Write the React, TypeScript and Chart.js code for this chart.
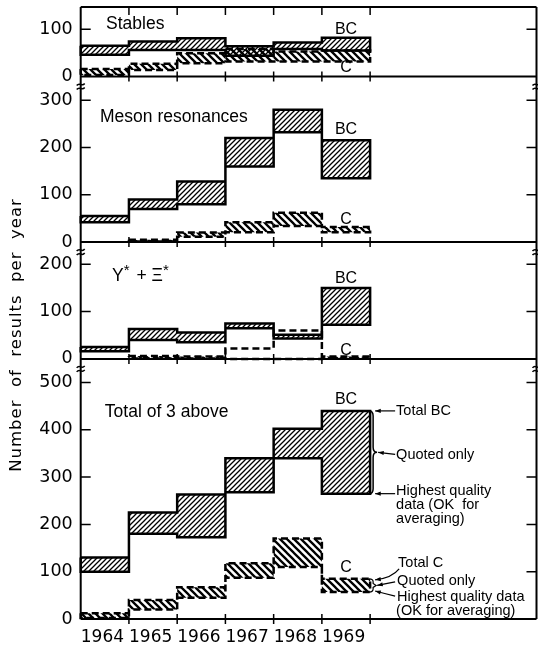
import React, { useEffect, useRef } from 'react';
import { Chart, registerables } from 'chart.js';

Chart.register(...registerables);

// ---- data ----
const years = [1964, 1965, 1966, 1967, 1968, 1969];
const yearLabels = ['1964', '1965', '1966', '1967', '1968', '1969'];

// each entry: [highest quality data (lower edge), total (upper edge)]
const stablesBC = [[46, 65], [56, 74], [56, 81], [44, 64], [58, 72], [55, 82]];
const stablesC = [[3, 16], [14, 27], [28, 49], [32, 58], [32, 53], [32, 55]];
const mesonBC = [[42, 55], [70, 90], [80, 128], [160, 220], [232, 280], [135, 215]];
const mesonC = [null, [1, 5], [11, 20], [21, 42], [34, 62], [21, 32]];
const hyperonBC = [[16, 25], [40, 63], [35, 56], [65, 75], [43, 51], [72, 150]];
const hyperonCQuoted = [null, [1, 6], [1, 5], null, null, [1, 5]];
const hyperonCTotal = [null, [1, 6], [1, 5], [0, 22], [0, 60], [1, 5]];
const totalBC = [[100, 130], [180, 225], [173, 263], [268, 340], [340, 402], [265, 440]];
const totalC = [[2, 12], [20, 40], [45, 67], [87, 118], [110, 170], [57, 85]];

const panelMax = [147, 350, 247, 550];
const panelTicks = [[0, 100], [0, 100, 200, 300], [0, 100, 200], [0, 100, 200, 300, 400, 500]];
const panelTitles = ['Stables', 'Meson resonances', 'Y*+Ξ*', 'Total of 3 above'];
const yTitle = 'Number  of  results  per  year';

type Box = number[] | null;

function outline(series: Box[]) {
  const idx = series.map((v, k) => (v ? k : -1)).filter((k) => k >= 0);
  const s = idx[0];
  const e = idx[idx.length - 1];
  const pts: { x: number; y: number }[] = [];
  for (let k = s; k <= e; k++) pts.push({ x: years[k], y: (series[k] as number[])[1] });
  pts.push({ x: years[e] + 1, y: (series[e] as number[])[1] });
  pts.push({ x: years[e] + 1, y: (series[e] as number[])[0] });
  for (let k = e; k > s; k--) pts.push({ x: years[k], y: (series[k - 1] as number[])[0] });
  pts.push({ x: years[s], y: (series[s] as number[])[0] });
  pts.push({ x: years[s], y: (series[s] as number[])[1] });
  return pts;
}

function barData(series: Box[]) {
  return years.map((yr, k) => ({ x: yr + 0.5, y: series[k] }));
}

function makeHatch(size: number, lw: number, dir: number) {
  const c = document.createElement('canvas');
  c.width = size;
  c.height = size;
  const g = c.getContext('2d')!;
  g.strokeStyle = '#000';
  g.lineWidth = lw;
  g.lineCap = 'square';
  g.beginPath();
  for (let k = -1; k <= 1; k++) {
    if (dir > 0) {
      g.moveTo(k * size, size);
      g.lineTo(k * size + size, 0);
    } else {
      g.moveTo(k * size, 0);
      g.lineTo(k * size + size, size);
    }
  }
  g.stroke();
  return g.createPattern(c, 'repeat')!;
}

const PANEL_FONT = '17.5px "Liberation Sans"';
const LABEL_FONT = '16px "Liberation Sans"';
const ANN_FONT = '14.5px "Liberation Sans"';
const TITLE_FONT = '16.5px "DejaVu Sans"';

function arrow(ctx: CanvasRenderingContext2D, x1: number, y1: number, x2: number, y2: number) {
  ctx.beginPath();
  ctx.moveTo(x1, y1);
  ctx.lineTo(x2, y2);
  ctx.stroke();
  const a = Math.atan2(y2 - y1, x2 - x1);
  ctx.beginPath();
  ctx.moveTo(x2, y2);
  ctx.lineTo(x2 - 6 * Math.cos(a - 0.35), y2 - 6 * Math.sin(a - 0.35));
  ctx.lineTo(x2 - 6 * Math.cos(a + 0.35), y2 - 6 * Math.sin(a + 0.35));
  ctx.closePath();
  ctx.fill();
}

function curvedArrow(ctx: CanvasRenderingContext2D, x1: number, y1: number, cx: number, cy: number, x2: number, y2: number) {
  ctx.beginPath();
  ctx.moveTo(x1, y1);
  ctx.quadraticCurveTo(cx, cy, x2, y2);
  ctx.stroke();
  const a = Math.atan2(y2 - cy, x2 - cx);
  ctx.beginPath();
  ctx.moveTo(x2, y2);
  ctx.lineTo(x2 - 6 * Math.cos(a - 0.35), y2 - 6 * Math.sin(a - 0.35));
  ctx.lineTo(x2 - 6 * Math.cos(a + 0.35), y2 - 6 * Math.sin(a + 0.35));
  ctx.closePath();
  ctx.fill();
}

function text(ctx: CanvasRenderingContext2D, s: string, x: number, y: number, font: string, align: CanvasTextAlign = 'left') {
  ctx.font = font;
  ctx.textAlign = align;
  ctx.textBaseline = 'middle';
  ctx.fillText(s, x, y);
}

const decor = {
  id: 'decor',
  afterDatasetsDraw(chart: any) {
    const ctx: CanvasRenderingContext2D = chart.ctx;
    const { left, right, top } = chart.chartArea;
    const xs = chart.scales.x;
    const panels = [0, 1, 2, 3].map((i) => chart.scales['y' + i]);
    const rx = right - 1;
    ctx.save();
    ctx.strokeStyle = '#000';
    ctx.fillStyle = '#000';
    ctx.lineCap = 'butt';
    ctx.lineWidth = 2;
    // frame
    ctx.beginPath();
    ctx.moveTo(left, top);
    ctx.lineTo(rx, top);
    ctx.moveTo(left, top);
    ctx.lineTo(left, panels[3].bottom);
    ctx.moveTo(rx, top);
    ctx.lineTo(rx, panels[3].bottom);
    panels.forEach((p) => {
      ctx.moveTo(left, p.bottom);
      ctx.lineTo(rx, p.bottom);
    });
    ctx.stroke();
    // inward value ticks
    ctx.lineWidth = 1.5;
    ctx.beginPath();
    panels.forEach((p) => {
      p.ticks.forEach((t: any) => {
        if (t.value <= 0) return;
        const y = p.getPixelForValue(t.value);
        ctx.moveTo(left, y);
        ctx.lineTo(left + 10, y);
        ctx.moveTo(rx - 10, y);
        ctx.lineTo(rx, y);
      });
    });
    // year boundary ticks
    const bounds = years.slice(1).concat([years[years.length - 1] + 1]);
    bounds.forEach((yr) => {
      const x = xs.getPixelForValue(yr);
      ctx.moveTo(x, top);
      ctx.lineTo(x, top + 8);
      panels.forEach((p) => {
        ctx.moveTo(x, p.bottom - 5);
        ctx.lineTo(x, p.bottom + 5);
      });
    });
    ctx.stroke();
    // axis break marks
    ctx.lineWidth = 1.5;
    panels.slice(0, 3).forEach((p) => {
      [left, rx].forEach((x) => {
        const y = p.bottom + 10;
        ctx.beginPath();
        for (const dy of [-2, 2]) {
          ctx.moveTo(x - 4, y + dy + 1);
          ctx.bezierCurveTo(x - 1, y + dy - 3, x + 1, y + dy + 3, x + 4, y + dy - 1);
        }
        ctx.stroke();
      });
    });
    ctx.restore();
  },
  afterDraw(chart: any) {
    const ctx: CanvasRenderingContext2D = chart.ctx;
    const xs = chart.scales.x;
    const panels = [0, 1, 2, 3].map((i) => chart.scales['y' + i]);
    const X = (v: number) => xs.getPixelForValue(v);
    const Y = (i: number, v: number) => panels[i].getPixelForValue(v);
    ctx.save();
    ctx.fillStyle = '#000';
    ctx.strokeStyle = '#000';

    // panel titles
    text(ctx, panelTitles[0], X(1964.525), Y(0, 111), PANEL_FONT);
    text(ctx, panelTitles[1], X(1964.4), Y(1, 263), PANEL_FONT);
    text(ctx, panelTitles[3], X(1964.5), Y(3, 438), PANEL_FONT);
    // Y* + Ξ*
    {
      let x = X(1964.65);
      const y = Y(2, 174);
      const parts = panelTitles[2].split(/(\*)/).filter((s) => s.length);
      ctx.textAlign = 'left';
      ctx.textBaseline = 'middle';
      parts.forEach((s) => {
        if (s === '*') {
          ctx.font = '15px "Liberation Sans"';
          ctx.fillText('*', x, y - 6);
          x += ctx.measureText('*').width + 2;
        } else {
          const str = s.replace('+', ' + ');
          ctx.font = PANEL_FONT;
          ctx.fillText(str, x, y);
          x += ctx.measureText(str).width;
        }
      });
    }
    // BC / C labels
    const bcY = [100, 237, 169, 463];
    const cY = [18, 48, 18, 109];
    panels.forEach((_, i) => {
      text(ctx, 'BC', X(1969.5), Y(i, bcY[i]), LABEL_FONT, 'center');
      text(ctx, 'C', X(1969.5), Y(i, cY[i]), LABEL_FONT, 'center');
    });

    // right-hand annotations (total panel)
    const x70 = X(1970);
    const tx = x70 + 26;
    const last = years.length - 1;
    const yTop = Y(3, totalBC[last][1]);
    const yBot = Y(3, totalBC[last][0]);
    const yMid = (yTop + yBot) / 2;
    ctx.lineWidth = 1.5;
    ctx.beginPath();
    ctx.moveTo(x70 - 1, yTop);
    ctx.quadraticCurveTo(x70 + 3, yTop, x70 + 3, yTop + 5);
    ctx.lineTo(x70 + 3, yMid - 5);
    ctx.quadraticCurveTo(x70 + 3, yMid, x70 + 7, yMid);
    ctx.quadraticCurveTo(x70 + 3, yMid, x70 + 3, yMid + 5);
    ctx.lineTo(x70 + 3, yBot - 5);
    ctx.quadraticCurveTo(x70 + 3, yBot, x70 - 1, yBot);
    ctx.stroke();
    ctx.lineWidth = 1.2;
    arrow(ctx, tx - 1, yTop, x70 + 5, yTop);
    arrow(ctx, tx - 1, yMid + 2, x70 + 8, yMid);
    arrow(ctx, tx - 1, yBot, x70 + 5, yBot);
    text(ctx, 'Total BC', tx, yTop, ANN_FONT);
    text(ctx, 'Quoted only', tx, yMid + 3, ANN_FONT);
    text(ctx, 'Highest quality', tx, yBot - 3, ANN_FONT);
    text(ctx, 'data (OK  for', tx, yBot + 11, ANN_FONT);
    text(ctx, 'averaging)', tx, yBot + 25, ANN_FONT);

    const cTop = Y(3, totalC[last][1]);
    const cBot = Y(3, totalC[last][0]);
    const cMid = (cTop + cBot) / 2;
    ctx.lineWidth = 1.2;
    ctx.beginPath();
    ctx.moveTo(x70 - 1, cTop);
    ctx.quadraticCurveTo(x70 + 3, cTop, x70 + 3, cTop + 3);
    ctx.lineTo(x70 + 3, cMid - 2);
    ctx.lineTo(x70 + 6, cMid);
    ctx.lineTo(x70 + 3, cMid + 2);
    ctx.lineTo(x70 + 3, cBot - 3);
    ctx.quadraticCurveTo(x70 + 3, cBot, x70 - 1, cBot);
    ctx.stroke();
    curvedArrow(ctx, tx + 3, cTop - 10, tx - 4, cTop - 1, x70 + 5, cTop + 1);
    arrow(ctx, tx - 1, cTop + 3, x70 + 7, cMid);
    curvedArrow(ctx, tx - 1, cBot + 4, tx - 10, cBot + 2, x70 + 5, cBot - 1);
    text(ctx, 'Total C', tx + 2, cTop - 16, ANN_FONT);
    text(ctx, 'Quoted only', tx + 1, cTop + 2.5, ANN_FONT);
    text(ctx, 'Highest quality data', tx + 1, cBot + 4.5, ANN_FONT);
    text(ctx, '(OK for averaging)', tx, cBot + 18.5, ANN_FONT);

    // y-axis title
    ctx.translate(17, 335);
    ctx.rotate(-Math.PI / 2);
    (ctx as any).letterSpacing = '1px';
    text(ctx, yTitle, 0, 0, TITLE_FONT, 'center');
    ctx.restore();
  },
};

export default function App() {
  const ref = useRef<HTMLCanvasElement>(null);
  useEffect(() => {
    document.body.style.margin = '0';
    const canvas = ref.current!;
    const hatchBC = makeHatch(5, 1.3, 1);
    const hatchC = makeHatch(7, 2.3, -1);

    const panelsData = [
      { bc: stablesBC, cFill: stablesC, cLine: stablesC },
      { bc: mesonBC, cFill: mesonC, cLine: mesonC },
      { bc: hyperonBC, cFill: hyperonCQuoted, cLine: hyperonCTotal },
      { bc: totalBC, cFill: totalC, cLine: totalC },
    ];

    const datasets: any[] = [];
    panelsData.forEach((p, i) => {
      const yAxisID = 'y' + i;
      const barCommon = {
        type: 'bar',
        yAxisID,
        grouped: false,
        barPercentage: 1,
        categoryPercentage: 1,
        borderWidth: 0,
        inflateAmount: 0,
        order: 2,
      };
      datasets.push({ ...barCommon, label: 'BC ' + i, data: barData(p.bc), backgroundColor: hatchBC });
      datasets.push({ ...barCommon, label: 'C ' + i, data: barData(p.cFill), backgroundColor: hatchC });
      const lineCommon = {
        type: 'line',
        yAxisID,
        stepped: true,
        pointRadius: 0,
        fill: false,
        borderColor: '#000',
        borderWidth: 2.5,
        borderJoinStyle: 'miter',
        borderCapStyle: 'butt',
        tension: 0,
        clip: false,
        order: 0,
      };
      datasets.push({ ...lineCommon, label: 'BC outline ' + i, data: outline(p.bc) });
      datasets.push({ ...lineCommon, label: 'C outline ' + i, data: outline(p.cLine), borderDash: [7, 4] });
    });

    const scales: any = {
      x: {
        type: 'linear',
        min: 1964,
        max: 1973.47,
        offset: false,
        grid: { display: false, drawTicks: false, offset: false },
        border: { display: false },
        afterBuildTicks: (s: any) => {
          s.ticks = years.map((y) => ({ value: y + 0.45 }));
        },
        afterFit: (s: any) => {
          s.height = 26;
          s.paddingLeft = 0;
          s.paddingRight = 0;
        },
        ticks: {
          autoSkip: false,
          maxRotation: 0,
          padding: 8,
          color: '#000',
          font: { family: 'DejaVu Sans', size: 17 },
          callback: (_v: any, idx: number) => yearLabels[idx],
        },
      },
    };
    panelMax.forEach((mx, i) => {
      scales['y' + i] = {
        type: 'linear',
        position: 'left',
        stack: 'panels',
        stackWeight: mx,
        weight: 4 - i,
        min: 0,
        max: mx,
        offset: false,
        grid: { display: false, drawTicks: false },
        border: { display: false },
        afterBuildTicks: (s: any) => {
          s.ticks = panelTicks[i].map((v) => ({ value: v }));
        },
        afterFit: (s: any) => {
          s.width = 80.7;
          s.paddingTop = 0;
          s.paddingBottom = 0;
        },
        ticks: {
          autoSkip: false,
          padding: 8,
          color: '#000',
          font: { family: 'DejaVu Sans', size: 17.5 },
          callback: (v: any) => String(v),
        },
      };
    });

    const chart = new Chart(canvas, {
      type: 'bar',
      data: { datasets },
      options: {
        responsive: false,
        animation: false,
        events: [],
        layout: { padding: { left: 0, right: 0.5, top: 7, bottom: 0 } },
        plugins: { legend: { display: false }, tooltip: { enabled: false } },
        scales,
      } as any,
      plugins: [decor],
    } as any);
    return () => chart.destroy();
  }, []);

  return (
    <div style={{ width: 538, height: 645 }}>
      <canvas ref={ref} width={538} height={645} style={{ display: 'block', width: 538, height: 645 }} />
    </div>
  );
}
